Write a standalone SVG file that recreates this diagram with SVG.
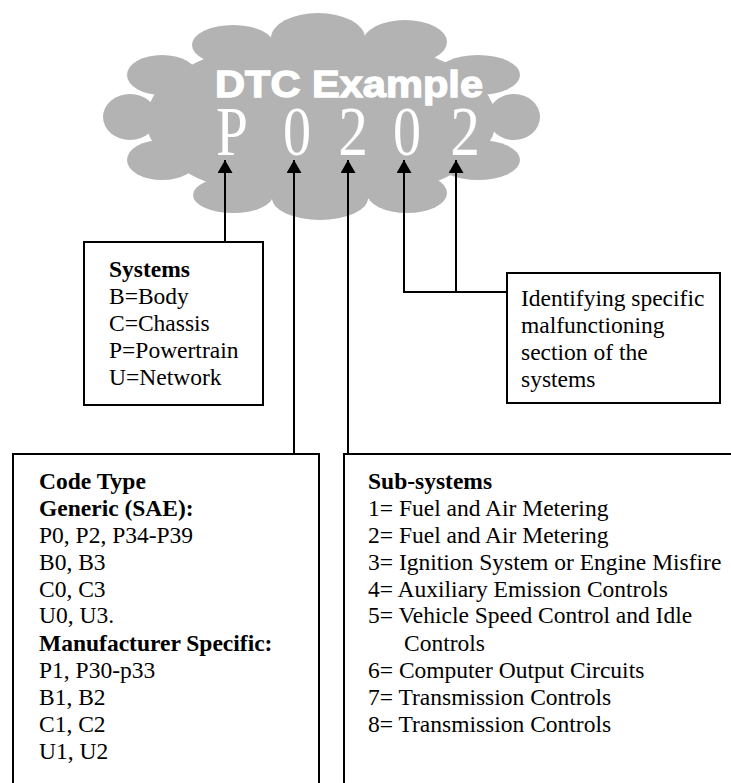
<svg xmlns="http://www.w3.org/2000/svg" width="731" height="783" viewBox="0 0 731 783">
<style>
.box{fill:#fff;stroke:#000;stroke-width:2}
.t{font-family:'Liberation Serif','Times New Roman',Times,'DejaVu Serif',serif;font-size:23.5px;fill:#000}
.b{font-weight:bold}
.conn{fill:none;stroke:#000;stroke-width:2}
.code{font-family:'Liberation Serif','Times New Roman',Times,'DejaVu Serif',serif;font-size:70px;fill:#fff;text-anchor:middle}
.cloud ellipse{fill:#b3b3b3}
</style>
<defs>
<marker id="ah" markerUnits="userSpaceOnUse" markerWidth="14" markerHeight="16" refX="13" refY="7.5" orient="auto">
<path d="M0,0 L13,7.5 L0,15 z" fill="#000"/>
</marker>
</defs>
<rect width="731" height="783" fill="#fff"/>
<g id="cloud" class="cloud">
<ellipse cx="321" cy="120" rx="175" ry="82"/>
<ellipse cx="233" cy="45" rx="41" ry="20"/>
<ellipse cx="318" cy="38" rx="47" ry="25"/>
<ellipse cx="405" cy="42" rx="42" ry="22"/>
<ellipse cx="162" cy="75" rx="35" ry="20"/>
<ellipse cx="130" cy="117" rx="27" ry="23"/>
<ellipse cx="162" cy="160" rx="35" ry="20"/>
<ellipse cx="233" cy="195" rx="40" ry="18"/>
<ellipse cx="320" cy="198" rx="48" ry="22"/>
<ellipse cx="407" cy="193" rx="40" ry="20"/>
<ellipse cx="478" cy="75" rx="42" ry="20"/>
<ellipse cx="514" cy="117" rx="26" ry="23"/>
<ellipse cx="478" cy="160" rx="42" ry="20"/>
<text x="215" y="97" textLength="268" lengthAdjust="spacingAndGlyphs" style="font-family:'Liberation Sans',Arial,sans-serif;font-weight:bold;font-size:37px;fill:#fff;stroke:#fff;stroke-width:1.3">DTC Example</text>
<text class="code" transform="translate(232,155) scale(0.82,1)">P</text>
<text class="code" transform="translate(297,155) scale(0.8,1)">0</text>
<text class="code" transform="translate(353,155) scale(0.85,1)">2</text>
<text class="code" transform="translate(407,155) scale(0.8,1)">0</text>
<text class="code" transform="translate(465,155) scale(0.85,1)">2</text>
</g>
<g id="connectors" class="conn">
<path d="M225,242 V160" marker-end="url(#ah)"/>
<path d="M294,454 V160" marker-end="url(#ah)"/>
<path d="M348,454 V160" marker-end="url(#ah)"/>
<path d="M507,292 H404 V160" marker-end="url(#ah)"/>
<path d="M456,292 V160" marker-end="url(#ah)"/>
</g>
<g id="systems">
<rect class="box" x="84" y="242" width="179" height="163"/>
<text class="t b" x="109" y="277">Systems</text>
<text class="t" x="109" y="304">B=Body</text>
<text class="t" x="109" y="331">C=Chassis</text>
<text class="t" x="109" y="358">P=Powertrain</text>
<text class="t" x="109" y="385">U=Network</text>
</g>
<g id="identifying">
<rect class="box" x="507" y="273" width="213" height="130"/>
<text class="t" x="521" y="306">Identifying specific</text>
<text class="t" x="521" y="333">malfunctioning</text>
<text class="t" x="521" y="360">section of the</text>
<text class="t" x="521" y="387">systems</text>
</g>
<g id="codetype">
<rect class="box" x="13" y="454" width="306" height="345"/>
<text class="t b" x="39" y="489">Code Type</text>
<text class="t b" x="39" y="516">Generic (SAE):</text>
<text class="t" x="39" y="543">P0, P2, P34-P39</text>
<text class="t" x="39" y="570">B0, B3</text>
<text class="t" x="39" y="597">C0, C3</text>
<text class="t" x="39" y="623">U0, U3.</text>
<text class="t b" x="39" y="651">Manufacturer Specific:</text>
<text class="t" x="39" y="678">P1, P30-p33</text>
<text class="t" x="39" y="705">B1, B2</text>
<text class="t" x="39" y="732">C1, C2</text>
<text class="t" x="39" y="759">U1, U2</text>
</g>
<g id="subsystems">
<rect class="box" x="344" y="454" width="400" height="345"/>
<text class="t b" x="368" y="489">Sub-systems</text>
<text class="t" x="368" y="516">1= Fuel and Air Metering</text>
<text class="t" x="368" y="543">2= Fuel and Air Metering</text>
<text class="t" x="368" y="570">3= Ignition System or Engine Misfire</text>
<text class="t" x="368" y="597">4= Auxiliary Emission Controls</text>
<text class="t" x="368" y="623">5= Vehicle Speed Control and Idle</text>
<text class="t" x="404" y="651">Controls</text>
<text class="t" x="368" y="678">6= Computer Output Circuits</text>
<text class="t" x="368" y="705">7= Transmission Controls</text>
<text class="t" x="368" y="732">8= Transmission Controls</text>
</g>
</svg>
